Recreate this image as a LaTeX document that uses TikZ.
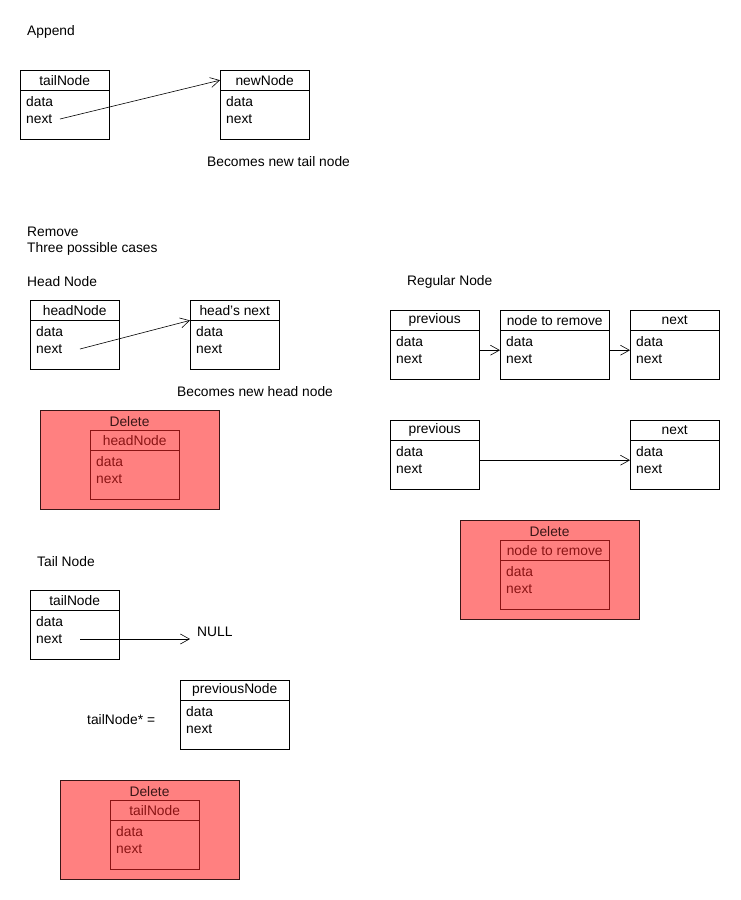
\documentclass[tikz,border=0pt]{standalone}
\usepackage{fontspec}
\setmainfont{Liberation Sans}
\usetikzlibrary{arrows.meta, positioning}
\usepackage{xcolor}
\definecolor{delfill}{HTML}{FF8080}
\definecolor{deldraw}{HTML}{3A1616}
\definecolor{deltext}{HTML}{8A1414}

\tikzset{
    every node/.style={font=\fontsize{13.8}{16}\selectfont, inner sep=0pt},
    nodebox/.style={draw, minimum height=69pt, anchor=north west},
    nodehead/.style={draw, minimum height=20pt, anchor=north west},
    field/.style={anchor=west},
    label/.style={anchor=west},
    deletebox/.style={draw=deldraw, fill=delfill, minimum width=179pt, minimum height=99pt, anchor=north west},
    link/.style={-{Straight Barb[length=9pt,width=10pt]}, semithick}
}

% list node: name, top left corner, width, title, colour
\newcommand{\listnode}[5]{
    \node[nodebox, draw=#5, minimum width=#3pt] (#1) at (#2) {};
    \node[nodehead, draw=#5, text=#5, minimum width=#3pt] (#1-head) at (#1.north west) {#4};
    \node[field, text=#5] (#1-data) at ([shift={(6pt,-32pt)}]#1.north west) {data};
    \node[field, text=#5] (#1-next) at ([shift={(6pt,-49pt)}]#1.north west) {next};
}

\begin{document}
\begin{tikzpicture}[x=1pt, y=-1pt]
    \useasboundingbox (0,0) rectangle (740,900);

    % Append
    \node[label] (append) at (27,32) {Append};
    \listnode{tailNodeA}{20,70}{89}{tailNode}{black}
    \listnode{newNode}{220,70}{89}{newNode}{black}
    \node[label] (newTail) at (207,162) {Becomes new tail node};
    \draw[link] ([xshift=34pt]tailNodeA-next.west) -- (newNode-head.west);

    % Remove
    \node[label] (remove) at (27,232) {Remove};
    \node[label] (cases) at (27,249) {Three possible cases};

    % head node
    \node[label] (headCase) at (27,282) {Head Node};
    \listnode{headNode}{30,300}{89}{headNode}{black}
    \listnode{headNext}{190,300}{89}{head's next}{black}
    \node[label] (newHead) at (177,392) {Becomes new head node};
    \draw[link] ([xshift=44pt]headNode-next.west) -- (headNext-head.south west);

    \node[deletebox] (delHead) at (40,410) {};
    \node[text=deldraw] (delHeadText) at (129.5,422) {Delete};
    \listnode{headNodeDel}{90,430}{89}{headNode}{deltext}

    % regular node
    \node[label] (regularCase) at (407,282) {Regular Node};
    \listnode{prevA}{390,310}{89}{previous}{black}
    \listnode{toRemove}{500,310}{109}{node to remove}{black}
    \listnode{nextA}{630,310}{89}{next}{black}
    \draw[link] ([yshift=-5.5pt]prevA.east) -- ([yshift=-5.5pt]toRemove.west);
    \draw[link] ([yshift=-5.5pt]toRemove.east) -- ([yshift=-5.5pt]nextA.west);

    \listnode{prevB}{390,420}{89}{previous}{black}
    \listnode{nextB}{630,420}{89}{next}{black}
    \draw[link] ([yshift=-5.5pt]prevB.east) -- ([yshift=-5.5pt]nextB.west);

    \node[deletebox] (delRegular) at (460,520) {};
    \node[text=deldraw] (delRegularText) at (549.5,532) {Delete};
    \listnode{toRemoveDel}{500,540}{109}{node to remove}{deltext}

    % tail node
    \node[label] (tailCase) at (37,562) {Tail Node};
    \listnode{tailNodeB}{30,590}{89}{tailNode}{black}
    \node[label] (nullText) at (197,632) {NULL};
    \coordinate (nullEnd) at (190,640);
    \draw[link] ([xshift=44pt]tailNodeB-next.west) -- (tailNodeB-next.west -| nullEnd);

    \node[label] (tailAssign) at (87,720) {tailNode* =};
    \listnode{prevNode}{180,680}{109}{previousNode}{black}

    \node[deletebox] (delTail) at (60,780) {};
    \node[text=deldraw] (delTailText) at (149.5,792) {Delete};
    \listnode{tailNodeDel}{110,800}{89}{tailNode}{deltext}
\end{tikzpicture}
\end{document}
